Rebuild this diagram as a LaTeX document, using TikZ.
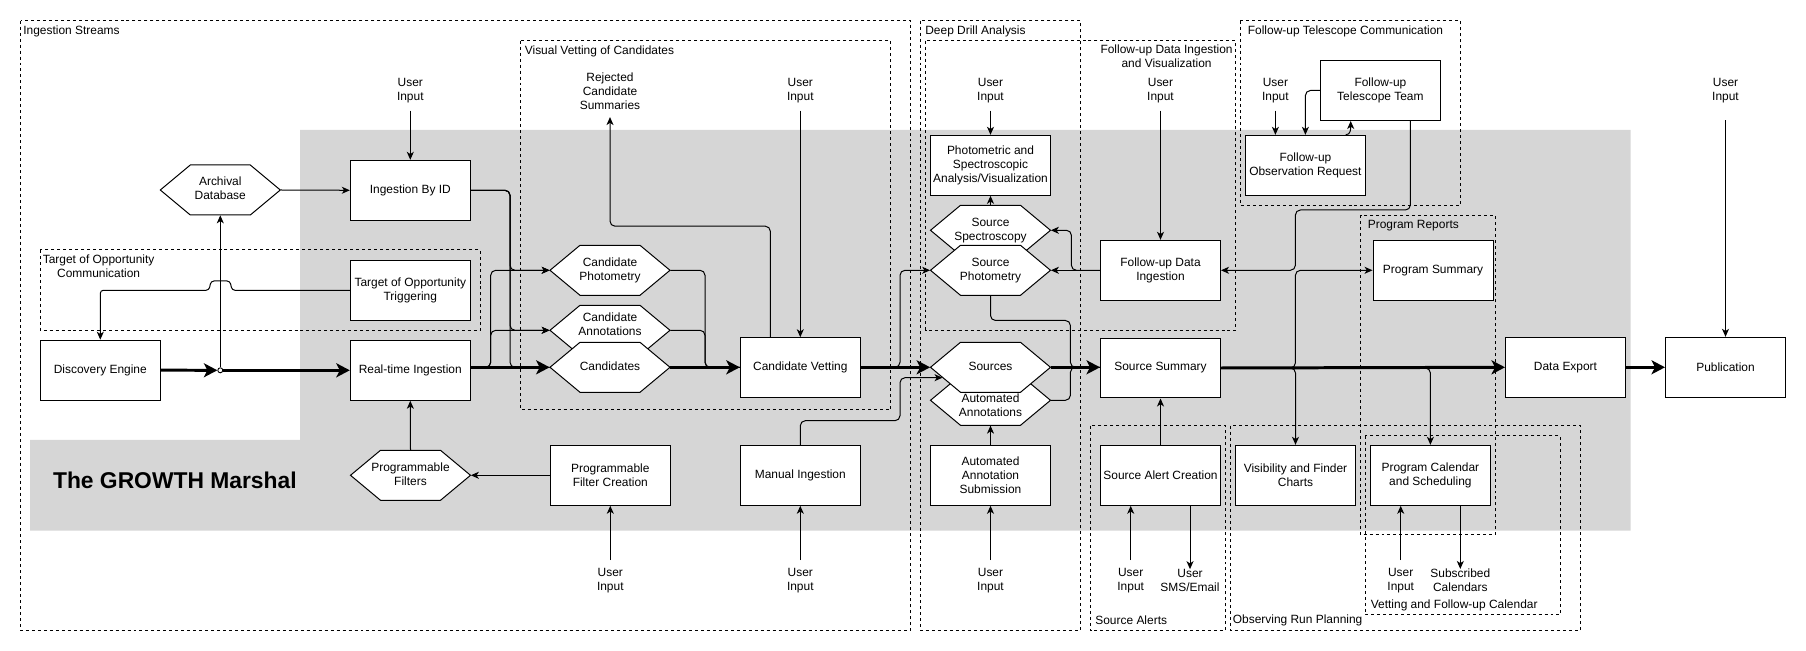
\documentclass[tikz,border=0pt]{standalone}
\usepackage{fontspec}
\setmainfont{Liberation Sans}
\usetikzlibrary{arrows.meta,calc}
\definecolor{growthgray}{RGB}{214,214,214}
\newcommand\fs{\fontsize{6.8}{7.94}\selectfont}
\newcommand\hexat[5]{%
  \filldraw[hexline] ({#2-60},#3) -- ({#2-30},{#3-25}) -- ({#2+30},{#3-25}) -- ({#2+60},#3) -- ({#2+30},{#3+25}) -- ({#2-30},{#3+25}) -- cycle;
  \node[hexb] (#1) at (#2,#3) {\raisebox{#5}[\height][\depth]{\begin{tabular}{@{}c@{}}#4\end{tabular}}};
}
\begin{document}
\begin{tikzpicture}[x=0.02cm,y=-0.02cm,
  blk/.style={draw, fill=white, line width=0.57pt, minimum width=2.4cm, minimum height=1.2cm, inner sep=1pt, align=center, font=\fs},
  hexb/.style={minimum width=2.4cm, minimum height=1cm, inner sep=0pt, font=\fs},
  hexline/.style={draw, fill=white, line width=0.57pt},
  grp/.style={draw, line width=0.57pt, dash pattern=on 1.7pt off 1.7pt},
  glabel/.style={font=\fs, inner sep=0pt},
  inp/.style={font=\fs, align=center, inner sep=0pt, outer sep=4.4pt},
  conn/.style={line width=0.57pt, rounded corners=0.1cm, -{Stealth[length=1.6mm,width=1.4mm,inset=0.45mm]}},
  flat/.style={line width=0.57pt, rounded corners=0.1cm},
  bigflow/.style={line width=1.7pt, -{Stealth[length=2.7mm,width=2.8mm,inset=0.7mm]}}
]
\useasboundingbox (0,0) rectangle (1806,651);
% background
\fill[growthgray] (300,130) -- (1630.7,130) -- (1630.7,530.7) -- (30,530.7) -- (30,440) -- (300,440) -- cycle;
% groups
\draw[grp] (20.7,20.7) rectangle (910.7,630.7);
\draw[grp] (40.3,250) rectangle (480.7,330.3);
\draw[grp] (520.7,40.7) rectangle (890.7,410);
\draw[grp] (920.7,20.7) rectangle (1080.4,630.7);
\draw[grp] (925.7,40.7) rectangle (1235.7,330.3);
\draw[grp] (1240.4,20.7) rectangle (1460.3,205.3);
\draw[grp] (1360.7,215.3) rectangle (1495.3,535);
\draw[grp] (1090.4,425.7) rectangle (1225.4,630.7);
\draw[grp] (1230.7,425.7) rectangle (1580.7,630.7);
\draw[grp] (1365.4,435.7) rectangle (1560.3,615);
% group labels
\node[glabel, anchor=west] (lIS) at (23,31) {Ingestion Streams};
\node[glabel, anchor=west, align=center] (lToO) at (42.5,266) {Target of Opportunity\\Communication};
\node[glabel, anchor=west] (lVV) at (524.5,51) {Visual Vetting of Candidates};
\node[glabel, anchor=west] (lDD) at (925,31) {Deep Drill Analysis};
\node[glabel, anchor=east, align=center] (lFD) at (1233,56) {Follow-up Data Ingestion\\and Visualization};
\node[glabel, anchor=west] (lFT) at (1247.5,31) {Follow-up Telescope Communication};
\node[glabel, anchor=west] (lPR) at (1367.5,226) {Program Reports};
\node[glabel, anchor=west] (lSA) at (1095,620.7) {Source Alerts};
\node[glabel, anchor=west] (lOR) at (1232.5,620.7) {Observing Run Planning};
\node[glabel, anchor=west] (lVC) at (1370.5,605.7) {Vetting and Follow-up Calendar};
% title
\node[font=\fontsize{13}{15}\selectfont\bfseries, anchor=west, inner sep=0pt] (title) at (52.7,480.5) {The GROWTH Marshal};
% boxes
\node[blk] (disc) at (100.3,370.2) {Discovery Engine};
\node[blk] (ibid) at (410.3,190.3) {Ingestion By ID};
\node[blk] (too) at (410.3,290.3) {Target of Opportunity\\Triggering};
\node[blk] (rti) at (410.3,370.3) {Real-time Ingestion};
\node[blk] (pfc) at (610.3,475.3) {Programmable\\Filter Creation};
\node[blk] (cv) at (800.3,367.7) {Candidate Vetting};
\node[blk] (mi) at (800.3,475.3) {Manual Ingestion};
\node[blk] (psa) at (990.5,165.3) {Photometric and\\Spectroscopic\\Analysis/Visualization};
\node[blk] (fdi) at (1160.5,270.3) {Follow-up Data\\Ingestion};
\node[blk] (ss) at (1160.5,368) {Source Summary};
\node[blk] (aas) at (990.5,475.3) {Automated\\Annotation\\Submission};
\node[blk] (sac) at (1160.5,475.3) {Source Alert Creation};
\node[blk] (vfc) at (1295.5,475.3) {Visibility and Finder\\Charts};
\node[blk] (ftt) at (1380.4,90.5) {Follow-up\\Telescope Team};
\node[blk] (fobs) at (1305.4,165.3) {Follow-up\\Observation Request};
\node[blk] (psum) at (1433,270.3) {Program Summary};
\node[blk] (pcs) at (1430.4,475.3) {Program Calendar\\and Scheduling};
\node[blk] (dexp) at (1565.5,367.3) {Data Export};
\node[blk] (pub) at (1725.5,367.3) {Publication};
% hexagons
\hexat{arch}{220.3}{190}{Archival\\Database}{0pt}
\hexat{pf}{410.5}{475.3}{Programmable\\Filters}{0pt}
\hexat{cphot}{610}{270.3}{Candidate\\Photometry}{0pt}
\hexat{canno}{610}{330.3}{Candidate\\Annotations}{2.4pt}
\hexat{cands}{610}{367.3}{Candidates}{0pt}
\hexat{sspec}{990.5}{230.3}{Source\\Spectroscopy}{0pt}
\hexat{sphot}{990.5}{270.3}{Source\\Photometry}{0pt}
\hexat{aanno}{990.5}{400.3}{Automated\\Annotations}{-3.4pt}
\hexat{srcs}{990.5}{367.3}{Sources}{0pt}
\coordinate (srcsin) at (942.5,377.7);
% user inputs and outputs
\node[inp] (uiA) at (410.3,90.5) {User\\Input};
\node[inp] (uiB) at (800.3,90.5) {User\\Input};
\node[inp] (uiC) at (990.5,90.5) {User\\Input};
\node[inp] (uiD) at (1160.5,90.5) {User\\Input};
\node[inp] (uiE) at (1275.4,90.5) {User\\Input};
\node[inp, outer sep=9.8pt] (uiF) at (1725.5,90.5) {User\\Input};
\node[inp] (rej) at (610,91) {Rejected\\Candidate\\Summaries};
\node[inp] (uiG) at (610.3,580.3) {User\\Input};
\node[inp] (uiH) at (800.3,580.3) {User\\Input};
\node[inp] (uiI) at (990.5,580.3) {User\\Input};
\node[inp] (uiJ) at (1130.7,580.3) {User\\Input};
\node[inp, outer sep=0pt] (sms) at (1190,580.3) {User\\SMS/Email};
\node[inp] (uiK) at (1400.7,580.3) {User\\Input};
\node[inp, outer sep=0pt] (subc) at (1460.3,580.3) {Subscribed\\Calendars};
% junction
\node[circle, draw, fill=white, line width=0.5pt, inner sep=0pt, minimum size=0.1cm] (jn) at (220.3,370.3) {};
% connectors: ingestion
\draw[conn] (uiA.south) -- (ibid.north);
\draw[conn] (arch.east) -- (ibid.west);
\draw[conn, rounded corners=0.06cm] (too.west) -- (232,290.3) -- (230,281) -- (211,281) -- (209,290.3) -| (disc.north);
\draw[conn] (jn.north) -- (arch.south);
\draw[bigflow] (disc.east) -- (jn.west);
\draw[bigflow] (jn.east) -- (rti.west);
\draw[conn] (pf.north) -- (rti.south);
\draw[conn] (pfc.west) -- (pf.east);
\draw[conn] (uiG.north) -- (pfc.south);
\draw[conn] (ibid.east) -- (510,190.3) |- (cphot.west);
\draw[conn] (ibid.east) -- (510,190.3) |- (canno.west);
\draw[flat] (ibid.east) -- (510,190.3) |- (cands.west);
\draw[conn] (rti.east |- cands.west) -- (490.7,367.3) |- (cphot.west);
\draw[conn] (rti.east |- cands.west) -- (490.7,367.3) |- (canno.west);
\draw[bigflow] (rti.east |- cands.west) -- (cands.west);
% vetting
\draw[flat] (cphot.east) -| (705,367.3) -- (cv.west |- cands.east);
\draw[flat] (canno.east) -| (705,367.3) -- (cv.west |- cands.east);
\draw[bigflow] (cands.east) -- (cv.west |- cands.east);
\draw[conn] (uiB.south) -- (cv.north);
\draw[conn] ([xshift=-0.6cm]cv.north) -- ++(0,-111) -| (rej.south);
\draw[bigflow] (cv.east |- srcs.west) -- (srcs.west);
\draw[conn] (cv.east |- srcs.west) -| (900,270.3) -- (sphot.west);
\draw[conn] (mi.north) |- (900,420.7) |- (srcsin);
\draw[conn] (uiH.north) -- (mi.south);
% deep drill
\draw[conn] (uiC.south) -- (psa.north);
\draw[conn] (sspec.north) -- (psa.south);
\draw[conn] (uiD.south) -- (fdi.north);
\draw[conn] (fdi.west) -- (sphot.east);
\draw[conn] (fdi.west) -| (1071.4,230.3) -- (sspec.east);
\draw[flat] (sphot.south) |- (1070.4,320.5) |- (ss.west |- srcs.east);
\draw[flat] (aanno.east) -| (1070.4,367.3) -- (ss.west |- srcs.east);
\draw[bigflow] (srcs.east) -- (ss.west |- srcs.east);
\draw[conn] (aas.north) -- (aanno.south);
\draw[conn] (uiI.north) -- (aas.south);
\draw[conn] (sac.north) -- (ss.south);
\draw[conn] (uiJ.north) -- (uiJ.north |- sac.south);
\draw[conn] (sac.south -| sms.north) -- (sms.north);
% telescope
\draw[conn] (uiE.south) -- (uiE.south |- fobs.north);
\draw[conn] (ftt.west) -| (fobs.north);
\draw[conn] ([xshift=0.806cm]fobs.north) .. controls +(5,0) and +(0,8) .. ([xshift=-0.594cm]ftt.south);
\draw[conn] ([xshift=0.6cm]ftt.south) |- (1295.4,210) |- (fdi.east);
% summary branches
\draw[bigflow] (ss.east) -- (dexp.west);
\draw[conn] (ss.east) -| (1295.4,270.3) -- (psum.west);
\draw[conn] (ss.east) -| (vfc.north);
\draw[conn] (ss.east) -| (pcs.north);
\draw[conn] (uiK.north) -- (uiK.north |- pcs.south);
\draw[conn] (pcs.south -| subc.north) -- (subc.north);
\draw[bigflow] (dexp.east) -- (pub.west);
\draw[conn] (uiF.south) -- (pub.north);
\end{tikzpicture}
\end{document}
